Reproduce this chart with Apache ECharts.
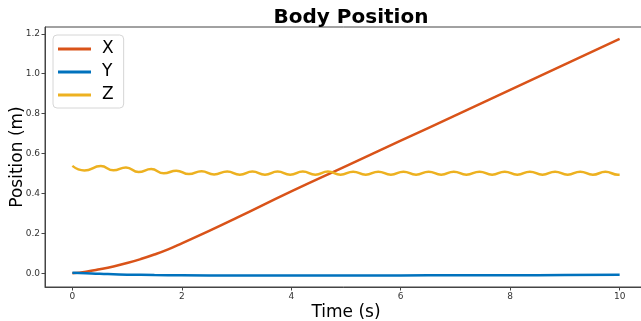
<!DOCTYPE html>
<html>
<head>
<meta charset="utf-8">
<script src="https://cdn.jsdelivr.net/npm/echarts@6/dist/echarts.min.js"></script>
<style>html,body{margin:0;padding:0;background:#fff}#c{width:641px;height:321px}</style>
</head>
<body>
<div id="c"></div>
<script>
// Data
var xTicks = [0, 2, 4, 6, 8, 10];
var yTicks = [0, 0.2, 0.4, 0.6, 0.8, 1.0, 1.2];

var xTime = [0, 0.25, 0.5, 0.75, 1.0, 1.25, 1.5, 1.75, 2.0, 2.5, 3, 4, 5, 6, 7, 8, 9, 10];
var xPos  = [0, 0.008, 0.020, 0.034, 0.051, 0.071, 0.094, 0.120, 0.150, 0.212, 0.277, 0.41, 0.537, 0.664, 0.791, 0.919, 1.047, 1.175];

var yTime = [0, 0.25, 0.5, 0.75, 1.0, 1.5, 2, 3, 4, 5, 6, 7, 8, 9, 10];
var yPos  = [0.003, 0.0, -0.003, -0.005, -0.007, -0.009, -0.010, -0.011, -0.011, -0.011, -0.011, -0.010, -0.010, -0.009, -0.008];

var zTime = [0, 0.22, 0.52, 0.75, 0.98, 1.21, 1.44, 1.67, 1.90, 2.13, 2.36, 2.59, 2.83, 3.06, 3.29, 3.52, 3.75, 3.98, 4.21, 4.44, 4.67, 4.90, 5.13, 5.36, 5.59, 5.82, 6.05, 6.28, 6.51, 6.74, 6.97, 7.20, 7.44, 7.67, 7.90, 8.13, 8.36, 8.59, 8.82, 9.05, 9.28, 9.51, 9.74, 9.97, 10.0];
var zPos  = [0.538, 0.515, 0.537, 0.516, 0.530, 0.507, 0.522, 0.501, 0.514, 0.497, 0.511, 0.495, 0.510, 0.494, 0.510, 0.494, 0.510, 0.494, 0.510, 0.494, 0.510, 0.494, 0.509, 0.494, 0.509, 0.494, 0.509, 0.494, 0.509, 0.494, 0.509, 0.494, 0.509, 0.494, 0.509, 0.494, 0.509, 0.494, 0.509, 0.494, 0.509, 0.494, 0.508, 0.494, 0.494];

function pairs(a, b) { return a.map(function (v, i) { return [v, b[i]]; }); }

var font = 'DejaVu Sans';
var chart = echarts.init(document.getElementById('c'), null, {renderer: 'canvas'});
chart.setOption({
  animation: false,
  backgroundColor: '#fff',
  title: {
    text: 'Body Position',
    left: 346, top: 3, textAlign: 'center',
    textStyle: {fontFamily: font, fontWeight: 'bold', fontSize: 20, color: '#000'}
  },
  grid: {left: 45, top: 27, width: 602, height: 260, containLabel: false, outerBoundsMode: 'none',
    show: true, borderColor: '#444', borderWidth: 1, backgroundColor: 'transparent'},
  legend: {
    left: 53, top: 35, orient: 'vertical',
    padding: [4, 10, 3, 5], itemGap: 3,
    itemWidth: 33, itemHeight: 3, icon: 'rect',
    borderColor: '#d6d6d6', borderWidth: 1, borderRadius: 4,
    backgroundColor: 'rgba(255,255,255,0.8)',
    textStyle: {fontFamily: font, fontSize: 17, color: '#000', lineHeight: 20, padding: [0, 0, 0, 6]},
    data: ['X', 'Y', 'Z']
  },
  xAxis: {
    type: 'value', min: -0.5, max: 10.5,
    name: 'Time (s)', nameLocation: 'middle', nameGap: 17, nameMoveOverlap: false,
    nameTextStyle: {fontFamily: font, fontSize: 17, color: '#000'},
    splitLine: {show: false},
    axisLine: {show: true, onZero: false, lineStyle: {color: '#444', width: 1}},
    axisTick: {show: true, length: 3.5, inside: false, customValues: xTicks, lineStyle: {color: '#444'}},
    axisLabel: {fontFamily: font, fontSize: 9, color: '#333', margin: 5, customValues: xTicks,
      formatter: function (v) { return String(Math.round(v)); }}
  },
  yAxis: {
    type: 'value', min: -0.069, max: 1.234,
    name: 'Position (m)', nameLocation: 'middle', nameGap: 19, nameRotate: 90, nameMoveOverlap: false,
    nameTextStyle: {fontFamily: font, fontSize: 17, color: '#000'},
    splitLine: {show: false},
    axisLine: {show: true, onZero: false, lineStyle: {color: '#444', width: 1}},
    axisTick: {show: true, length: 3.5, inside: false, customValues: yTicks, lineStyle: {color: '#444'}},
    axisLabel: {fontFamily: font, fontSize: 9, color: '#333', margin: 5, customValues: yTicks,
      formatter: function (v) { return v.toFixed(1); }}
  },
  series: [
    {name: 'X', type: 'line', data: pairs(xTime, xPos), smooth: true, showSymbol: false, symbol: 'none',
      lineStyle: {color: '#D95319', width: 2.5}, itemStyle: {color: '#D95319'}},
    {name: 'Y', type: 'line', data: pairs(yTime, yPos), smooth: true, showSymbol: false, symbol: 'none',
      lineStyle: {color: '#0072BD', width: 2.5}, itemStyle: {color: '#0072BD'}},
    {name: 'Z', type: 'line', data: pairs(zTime, zPos), smooth: true, showSymbol: false, symbol: 'none',
      lineStyle: {color: '#EDB120', width: 2.5}, itemStyle: {color: '#EDB120'}}
  ]
});
</script>
</body>
</html>
